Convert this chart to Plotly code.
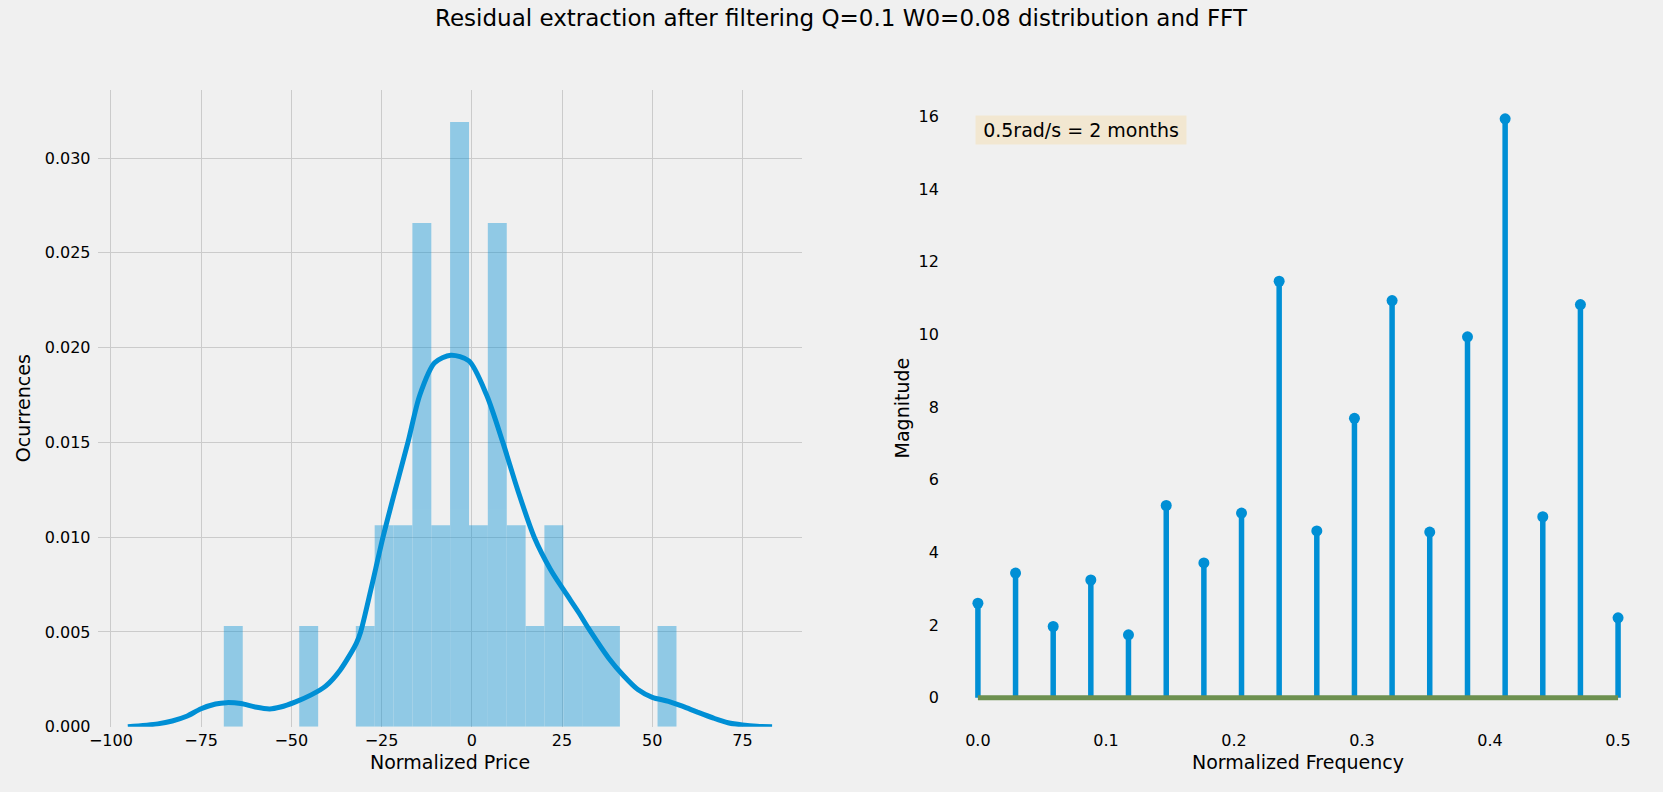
import plotly.graph_objects as go

# ── Histogram of residuals (24 equal bins, counts) ──
hist_first_edge = -68.7
hist_bin_width = 5.225
hist_counts = [1, 0, 0, 0, 1, 0, 0, 1, 2, 2, 5, 2, 6, 2, 5, 2, 1, 2, 1, 1, 1, 0, 0, 1]

# ── KDE curve over the residuals ──
kde_x = [-95.3, -87, -83, -79, -75, -71, -68, -64, -60, -56, -53, -49, -44.5, -40.5,
         -36.5, -32, -30.8, -28, -24.6, -21.2, -17.7, -14.4, -10.3, -5.8, -0.8, 4.1,
         8.6, 12.7, 17.3, 21.8, 25.5, 29.7, 32.3, 38, 42, 46, 50, 54.5, 58.5, 62.5,
         67, 71, 75, 79, 83.2]
kde_y = [0.0, 0.00015, 0.0003, 0.00055, 0.00095, 0.0012, 0.00127, 0.00122, 0.00104,
         0.00094, 0.00104, 0.0013, 0.00168, 0.00214, 0.00298, 0.0044, 0.0050, 0.0072,
         0.0100, 0.0125, 0.0150, 0.0175, 0.0192, 0.0196, 0.0193, 0.0175, 0.0150,
         0.0125, 0.0100, 0.0083, 0.0072, 0.0060, 0.0052, 0.0036, 0.0027, 0.00196,
         0.00155, 0.00134, 0.00107, 0.00077, 0.00045, 0.00021, 0.00009, 0.00002, 0.0]

# ── FFT magnitude (stem plot) ──
fft_freq = [0.0, 0.0294, 0.0588, 0.0882, 0.1176, 0.1471, 0.1765, 0.2059, 0.2353,
            0.2647, 0.2941, 0.3235, 0.3529, 0.3824, 0.4118, 0.4412, 0.4706, 0.5]
fft_mag = [2.6, 3.43, 1.96, 3.24, 1.73, 5.29, 3.71, 5.08, 11.46,
           4.59, 7.69, 10.93, 4.56, 9.93, 15.93, 4.98, 10.82, 2.2]

left_xticks = [-100, -75, -50, -25, 0, 25, 50, 75]
left_yticks = [0.0, 0.005, 0.010, 0.015, 0.020, 0.025, 0.030]
right_xticks = [0.0, 0.1, 0.2, 0.3, 0.4, 0.5]
right_yticks = [0, 2, 4, 6, 8, 10, 12, 14, 16]

BLUE = "#008fd5"
GREEN = "#6d904f"
BG = "#f0f0f0"
GRID = "#cbcbcb"
FONT = "DejaVu Sans"
W, H = 1663, 792

n_samples = sum(hist_counts)
bin_centers = [hist_first_edge + (i + 0.5) * hist_bin_width for i in range(len(hist_counts))]
density = [c / (n_samples * hist_bin_width) for c in hist_counts]

# stems as one broken line
stem_x, stem_y = [], []
for f, m in zip(fft_freq, fft_mag):
    stem_x += [f, f, None]
    stem_y += [0, m, None]

fig = go.Figure()

# ── Left: distribution ───────────────────────────────────────────────
# bars a hair wider than the bin so adjacent bins show no seam
fig.add_trace(go.Bar(
    x=bin_centers, y=density, width=hist_bin_width * 1.004,
    marker=dict(color=BLUE, line_width=0), opacity=0.4,
    xaxis="x", yaxis="y", showlegend=False,
))
fig.add_trace(go.Scatter(
    x=kde_x, y=kde_y, mode="lines",
    line=dict(color=BLUE, width=5, shape="spline", smoothing=0.8),
    xaxis="x", yaxis="y", showlegend=False,
))

# ── Right: FFT stems ─────────────────────────────────────────────────
fig.add_trace(go.Scatter(
    x=stem_x, y=stem_y, mode="lines",
    line=dict(color=BLUE, width=5.5),
    xaxis="x2", yaxis="y2", showlegend=False,
))
fig.add_trace(go.Scatter(
    x=fft_freq, y=fft_mag, mode="markers",
    marker=dict(color=BLUE, size=11),
    xaxis="x2", yaxis="y2", showlegend=False,
))
fig.add_trace(go.Scatter(
    x=[fft_freq[0], fft_freq[-1]], y=[0, 0], mode="lines",
    line=dict(color=GREEN, width=5),
    xaxis="x2", yaxis="y2", showlegend=False,
))

tick_font = dict(family=FONT, size=16, color="black")
label_font = dict(family=FONT, size=19, color="black")

y_dom = [1 - 736 / H, 1 - 91 / H]
left_dom = [89 / W, 797 / W]
right_dom = [942 / W, 1650 / W]

fig.update_layout(
    width=W, height=H,
    margin=dict(l=0, r=0, t=0, b=0),
    paper_bgcolor=BG, plot_bgcolor=BG,
    font=dict(family=FONT, color="black"),
    hovermode=False,
    title=dict(
        text="Residual extraction after filtering Q=0.1 W0=0.08 distribution and FFT",
        x=841 / W, xanchor="center", y=1 - 18 / H, yanchor="middle",
        font=dict(family=FONT, size=23, color="black"),
    ),
    xaxis=dict(
        domain=left_dom, range=[-103.7, 91.4], tickvals=left_xticks,
        showgrid=True, gridcolor=GRID, gridwidth=1.3, zeroline=False, showline=False,
        ticks="", tickfont=tick_font, ticklabelstandoff=2,
    ),
    yaxis=dict(
        domain=y_dom, range=[0, 0.0336], tickvals=left_yticks, tickformat=".3f",
        showgrid=True, gridcolor=GRID, gridwidth=1.3, zeroline=False, showline=False,
        ticks="", tickfont=tick_font, ticklabelstandoff=6,
    ),
    xaxis2=dict(
        domain=right_dom, range=[-0.025, 0.525], tickvals=right_xticks, tickformat=".1f",
        showgrid=False, zeroline=False, showline=False, anchor="y2",
        ticks="", tickfont=tick_font, ticklabelstandoff=2,
    ),
    yaxis2=dict(
        domain=y_dom, range=[-0.797, 16.727], tickvals=right_yticks,
        showgrid=False, zeroline=False, showline=False, anchor="x2",
        ticks="", tickfont=tick_font, ticklabelstandoff=6,
    ),
    annotations=[
        dict(text="Normalized Price", x=sum(left_dom) / 2, y=1 - 772 / H,
             xref="paper", yref="paper", showarrow=False, font=label_font,
             xanchor="center", yanchor="middle"),
        dict(text="Ocurrences", x=14 / W, y=sum(y_dom) / 2, textangle=-90,
             xref="paper", yref="paper", showarrow=False, font=label_font,
             xanchor="center", yanchor="middle"),
        dict(text="Normalized Frequency", x=sum(right_dom) / 2, y=1 - 772 / H,
             xref="paper", yref="paper", showarrow=False, font=label_font,
             xanchor="center", yanchor="middle"),
        dict(text="Magnitude", x=898 / W, y=sum(y_dom) / 2, textangle=-90,
             xref="paper", yref="paper", showarrow=False, font=label_font,
             xanchor="center", yanchor="middle"),
        dict(text="0.5rad/s = 2 months", x=0.041, y=0.96,
             xref="x2 domain", yref="y2 domain", showarrow=False,
             xanchor="left", yanchor="top", width=204,
             font=dict(family=FONT, size=19, color="black"),
             bgcolor="#f2e7d1", borderpad=3),
    ],
)

fig.write_html(
    "out.html",
    config={"displayModeBar": False},
    post_script="document.body.style.margin='0';document.body.style.overflow='hidden';",
)
